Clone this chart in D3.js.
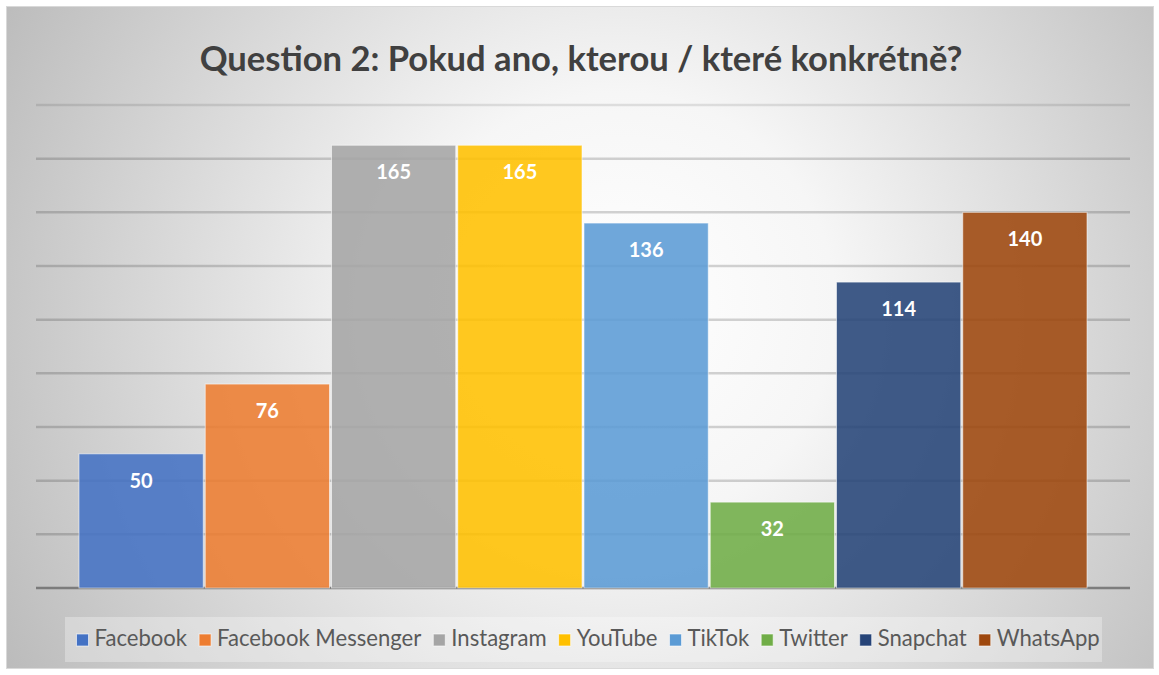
<!DOCTYPE html>
<html>
<head>
<meta charset="utf-8">
<script src="https://cdn.jsdelivr.net/npm/d3@7"></script>
<style>
  html, body { margin: 0; padding: 0; background: #fff; }
  #chart { width: 1159px; height: 675px; }
</style>
</head>
<body>
<div id="chart"></div>
<script>
// data
const categories = ["Facebook", "Facebook Messenger", "Instagram", "YouTube", "TikTok", "Twitter", "Snapchat", "WhatsApp"];
const values = [50, 76, 165, 165, 136, 32, 114, 140];
const colors = ["#4472C4", "#ED7D31", "#A5A5A5", "#FFC000", "#5B9BD5", "#70AD47", "#264478", "#9E480E"];
const gridTicks = [0, 20, 40, 60, 80, 100, 120, 140, 160, 180];
const titleText = "Question 2: Pokud ano, kterou / které konkrétně?";

const W = 1159, H = 675;
const FONT = "Lato, 'Open Sans', sans-serif";

const svg = d3.select("#chart").append("svg")
  .attr("width", W).attr("height", H)
  .attr("viewBox", [0, 0, W, H]);

// background gradient
const defs = svg.append("defs");
const grad = defs.append("radialGradient")
  .attr("id", "bg")
  .attr("gradientUnits", "userSpaceOnUse")
  .attr("cx", 620).attr("cy", 330).attr("r", 720)
  .attr("fx", 620).attr("fy", 300);
grad.append("stop").attr("offset", "0%").attr("stop-color", "#ffffff");
grad.append("stop").attr("offset", "30%").attr("stop-color", "#f6f6f6");
grad.append("stop").attr("offset", "100%").attr("stop-color", "#b9b9b9");

svg.append("rect")
  .attr("x", 6.5).attr("y", 6.5)
  .attr("width", 1147).attr("height", 662)
  .attr("fill", "url(#bg)")
  .attr("stroke", "#d9d9d9")
  .attr("stroke-width", 1);

// scales
const x = d3.scaleBand()
  .domain(categories)
  .range([78, 1088])
  .paddingInner(0.0);

const y = d3.scaleLinear()
  .domain([0, 180])
  .range([588, 105]);

// gridlines
const grid = svg.append("g").attr("data-name", "grid");
grid.selectAll("line")
  .data(gridTicks)
  .join("line")
  .attr("x1", 36).attr("x2", 1130)
  .attr("y1", d => y(d)).attr("y2", d => y(d))
  .attr("stroke", d => d === 0 ? "#6f6f6f" : "#000")
  .attr("stroke-opacity", d => d === 0 ? 0.85 : (d === 180 ? 0.1 : 0.17))
  .attr("stroke-width", 2.5);

// bars
const bars = svg.append("g").attr("data-name", "bars");
bars.selectAll("rect")
  .data(values)
  .join("rect")
  .attr("x", (d, i) => x(categories[i]) + 1)
  .attr("width", x.bandwidth() - 2)
  .attr("y", d => y(d))
  .attr("height", d => y(0) - y(d))
  .attr("fill", (d, i) => colors[i])
  .attr("fill-opacity", 0.88)
  .attr("stroke", "#fff")
  .attr("stroke-opacity", 0.55)
  .attr("stroke-width", 1);

// value labels
svg.append("g").attr("data-name", "labels")
  .selectAll("text")
  .data(values)
  .join("text")
  .attr("x", (d, i) => x(categories[i]) + x.bandwidth() / 2)
  .attr("y", d => y(d) + 34)
  .attr("text-anchor", "middle")
  .attr("font-family", FONT)
  .attr("font-weight", "bold")
  .attr("font-size", 20)
  .attr("fill", "#fff")
  .text(d => d);

// title, fitted to width of the original
const title = svg.append("text")
  .attr("x", 581).attr("y", 71)
  .attr("text-anchor", "middle")
  .attr("font-family", FONT)
  .attr("font-weight", "bold")
  .attr("font-size", 34)
  .attr("fill", "#404040")
  .text(titleText);
const tw = title.node().getComputedTextLength();
title.attr("font-size", 34 * 763 / tw);

// legend
svg.append("rect")
  .attr("x", 65).attr("y", 617)
  .attr("width", 1037).attr("height", 45)
  .attr("fill", "#fff").attr("fill-opacity", 0.3);

const legend = svg.append("g").attr("data-name", "legend");
let legendSize = 21;
const items = legend.selectAll("g")
  .data(categories)
  .join("g");
items.append("rect")
  .attr("width", 12).attr("height", 12)
  .attr("y", -12)
  .attr("fill", (d, i) => colors[i])
  .attr("stroke", "#fff").attr("stroke-opacity", 0.6);
const labels = items.append("text")
  .attr("x", 18)
  .attr("font-family", FONT)
  .attr("font-size", legendSize)
  .attr("fill", "#595959")
  .text(d => d);

// fit legend text so the whole row spans the same width as the original
const gaps = 18 + 12;
let total = 0;
labels.each(function () { total += this.getComputedTextLength(); });
const target = 1100 - 76.5 - gaps * categories.length + 12;
legendSize = legendSize * target / total;
labels.attr("font-size", legendSize);

let cx = 76.5;
items.each(function () {
  const g = d3.select(this);
  g.attr("transform", `translate(${cx},646)`);
  cx += 18 + g.select("text").node().getComputedTextLength() + 12;
});
</script>
</body>
</html>
